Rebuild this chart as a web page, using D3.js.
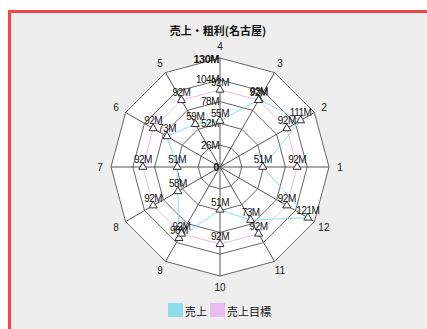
<!DOCTYPE html>
<html>
<head>
<meta charset="utf-8">
<script src="https://cdn.jsdelivr.net/npm/d3@7"></script>
<style>
  body { margin: 0; background: #fff; }
  svg { display: block; }
</style>
</head>
<body>
<div id="chart"></div>
<script>
const categories = ["1", "2", "3", "4", "5", "6", "7", "8", "9", "10", "11", "12"];
const sales = [51, 111, 93, 55, 59, 73, 51, 58, 98, 51, 73, 121];
const target = [92, 92, 92, 92, 92, 92, 92, 92, 92, 92, 92, 92];
const ringTicks = [0, 26, 52, 78, 104, 130];
const seriesNames = ["売上", "売上目標"];
const seriesColors = ["#8fdde8", "#e8bcef"];

const width = 427, height = 329;
const cx = 220, cy = 167, radius = 109;

const svg = d3.select("#chart")
    .append("svg")
    .attr("width", width)
    .attr("height", height);

// panel
svg.append("rect")
    .attr("x", 9.5).attr("y", 11.5)
    .attr("width", width + 10).attr("height", height + 10)
    .attr("fill", "#eeeeee")
    .attr("stroke", "#f44444")
    .attr("stroke-width", 3);

svg.append("text")
    .attr("x", 218).attr("y", 35)
    .attr("text-anchor", "middle")
    .attr("font-family", "'Noto Sans CJK JP'")
    .attr("font-weight", "bold")
    .attr("font-size", 11)
    .attr("fill", "#111")
    .text("売上・粗利(名古屋)");

const r = d3.scaleLinear().domain([0, 130]).range([0, radius]);
const angle = i => i * Math.PI / 6; // counter-clockwise from the right
const pt = (i, v) => [cx + r(v) * Math.cos(angle(i)), cy - r(v) * Math.sin(angle(i))];

const g = svg.append("g");

// outer fill
g.append("polygon")
    .attr("points", categories.map((c, i) => pt(i, 130).join(",")).join(" "))
    .attr("fill", "#fff");

// rings
g.selectAll(".ring")
    .data(ringTicks.filter(d => d > 0))
    .join("polygon")
    .attr("class", "ring")
    .attr("points", d => categories.map((c, i) => pt(i, d).join(",")).join(" "))
    .attr("fill", "none")
    .attr("stroke", "#666")
    .attr("stroke-width", 1);

// spokes
g.selectAll(".spoke")
    .data(categories)
    .join("line")
    .attr("class", "spoke")
    .attr("x1", cx).attr("y1", cy)
    .attr("x2", (d, i) => pt(i, 130)[0])
    .attr("y2", (d, i) => pt(i, 130)[1])
    .attr("stroke", "#555")
    .attr("stroke-width", 1);

// axis labels
g.selectAll(".cat")
    .data(categories)
    .join("text")
    .attr("class", "cat")
    .attr("x", (d, i) => cx + (radius + 11) * Math.cos(angle(i)))
    .attr("y", (d, i) => cy - (radius + 11) * Math.sin(angle(i)) + (i === 3 ? -1 : 0))
    .attr("dy", "0.35em")
    .attr("text-anchor", "middle")
    .attr("font-family", "'Liberation Sans', Arial")
    .attr("font-size", 10)
    .attr("fill", "#222")
    .text(d => d);

// series lines
const series = [sales, target];
series.slice().reverse().forEach((vals, k) => {
    const si = series.length - 1 - k;
    g.append("polygon")
        .attr("points", vals.map((v, i) => pt(i, v).join(",")).join(" "))
        .attr("fill", "none")
        .attr("stroke", seriesColors[si])
        .attr("stroke-width", 1);
});

// ring labels
g.selectAll(".tick")
    .data(ringTicks)
    .join("text")
    .attr("class", "tick")
    .attr("x", d => d === 0 ? cx - 4 : cx - 1)
    .attr("y", d => cy - r(d) + (d === 130 ? 1 : 0))
    .attr("dy", "0.35em")
    .attr("text-anchor", d => d === 0 ? "middle" : "end")
    .attr("font-family", "'Liberation Sans', Arial")
    .attr("font-weight", d => (d === 0 || d === 130) ? "bold" : "normal")
    .attr("font-size", d => d === 130 ? 11 : 10)
    .attr("letter-spacing", -0.5)
    .attr("fill", "#111")
    .text(d => d === 0 ? "0" : d + "M");

// markers and value labels
const tri = d3.symbol().type(d3.symbolTriangle).size(28);
series.forEach((vals, si) => {
    const mg = g.append("g");
    mg.selectAll("path")
        .data(vals)
        .join("path")
        .attr("d", tri)
        .attr("transform", (v, i) => `translate(${pt(i, v)[0]},${pt(i, v)[1]})`)
        .attr("fill", "#fff")
        .attr("stroke", "#333")
        .attr("stroke-width", 1);
    mg.selectAll("text")
        .data(vals)
        .join("text")
        .attr("x", (v, i) => pt(i, v)[0])
        .attr("y", (v, i) => pt(i, v)[1] - 4)
        .attr("text-anchor", "middle")
        .attr("font-family", "'Liberation Sans', Arial")
        .attr("font-size", 10)
        .attr("letter-spacing", -0.5)
        .attr("fill", "#111")
        .text(v => v + "M");
});

// legend
const legend = svg.append("g").attr("transform", "translate(168,303)");
const legendX = [0, 42];
seriesNames.forEach((name, i) => {
    legend.append("rect")
        .attr("x", legendX[i]).attr("y", 0)
        .attr("width", 15).attr("height", 14)
        .attr("fill", seriesColors[i]);
    legend.append("text")
        .attr("x", legendX[i] + 17).attr("y", 13)
        .attr("font-family", "'Noto Sans CJK JP'")
        .attr("font-size", 11)
        .attr("fill", "#111")
        .text(name);
});
</script>
</body>
</html>
